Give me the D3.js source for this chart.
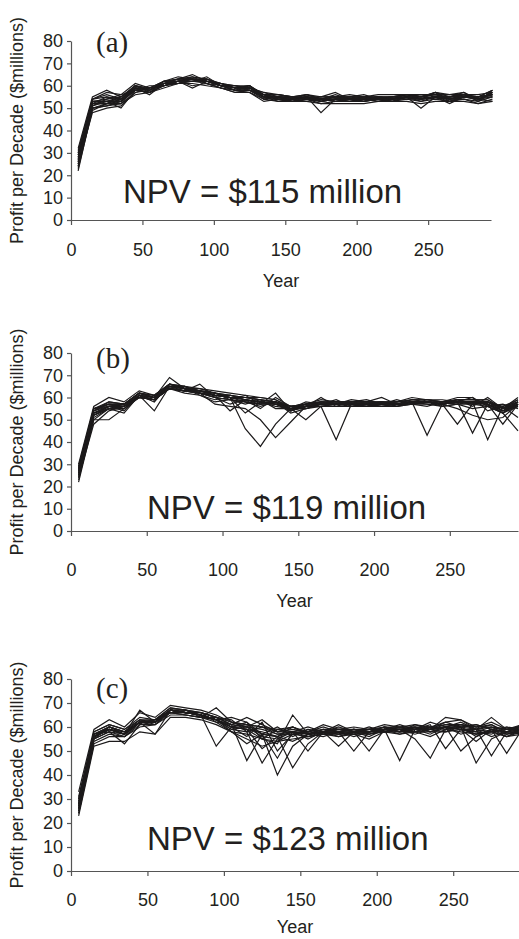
<!DOCTYPE html>
<html>
<head>
<meta charset="utf-8">
<script src="https://cdn.jsdelivr.net/npm/d3@7"></script>
<style>
  body { margin: 0; background: #fff; }
  svg { display: block; }
  text { font-family: "Liberation Sans", Arial, sans-serif; fill: #231f20; }
</style>
</head>
<body>
<div id="chart"></div>
<script>
// years at the middle of each decade
let years = [5, 15, 25, 35, 45, 55, 65, 75, 85, 95, 105, 115, 125, 135, 145,
             155, 165, 175, 185, 195, 205, 215, 225, 235, 245, 255, 265, 275, 285, 295]

let yTicks = [0, 10, 20, 30, 40, 50, 60, 70, 80]
let xTicks = [0, 50, 100, 150, 200, 250]
let panelLabels = ["(a)", "(b)", "(c)"]
let npvValues = [115, 119, 123]

// panel (a) runs, profit per decade ($millions)
let runsA = [
  [22, 50, 52, 53, 58, 57, 60, 62, 62, 61, 59, 58, 58, 55, 54, 53, 54, 52, 53, 54, 53, 54, 53, 55, 54, 55, 53, 55, 54, 55],
  [32, 55, 58, 55, 60, 59, 62, 63, 64, 63, 61, 60, 60, 56, 56, 55, 56, 54, 55, 55, 55, 55, 55, 56, 55, 56, 55, 56, 55, 58],
  [25, 48, 50, 51, 57, 58, 61, 62, 60, 61, 60, 58, 57, 53, 54, 54, 55, 48, 54, 53, 54, 53, 54, 55, 50, 55, 54, 54, 53, 55],
  [29, 53, 54, 55, 59, 56, 61, 63, 65, 62, 60, 59, 59, 57, 55, 54, 55, 54, 56, 54, 55, 55, 54, 56, 55, 54, 55, 56, 54, 57],
  [27, 51, 53, 50, 58, 59, 60, 61, 63, 62, 61, 59, 60, 55, 55, 53, 54, 55, 57, 54, 53, 54, 55, 55, 53, 55, 55, 55, 55, 56],
  [24, 52, 52, 54, 59, 58, 62, 62, 62, 63, 60, 58, 58, 56, 54, 54, 55, 53, 54, 55, 54, 54, 53, 54, 55, 56, 54, 55, 55, 56],
  [30, 54, 56, 54, 60, 58, 61, 63, 63, 62, 60, 60, 59, 56, 56, 55, 54, 53, 54, 54, 55, 54, 55, 56, 54, 57, 56, 57, 54, 57],
  [26, 50, 51, 53, 58, 57, 60, 62, 64, 61, 59, 57, 58, 54, 55, 54, 53, 54, 54, 53, 54, 55, 54, 55, 54, 55, 52, 55, 55, 55],
  [28, 53, 53, 55, 60, 58, 61, 61, 62, 62, 61, 59, 59, 55, 55, 55, 54, 53, 55, 54, 54, 53, 54, 55, 56, 55, 54, 56, 53, 57],
  [23, 49, 52, 52, 57, 59, 60, 62, 63, 61, 59, 58, 58, 55, 53, 54, 55, 54, 53, 53, 53, 54, 54, 54, 53, 54, 53, 54, 52, 54],
  [31, 54, 55, 54, 59, 58, 62, 63, 63, 63, 60, 59, 60, 56, 55, 55, 55, 55, 55, 54, 54, 55, 55, 56, 55, 57, 55, 56, 55, 58],
  [27, 52, 53, 53, 59, 58, 61, 62, 63, 62, 60, 59, 59, 55, 55, 54, 55, 53, 54, 54, 54, 54, 54, 55, 54, 55, 54, 55, 54, 56],
  [25, 51, 54, 56, 58, 57, 61, 62, 59, 62, 60, 58, 59, 56, 54, 53, 55, 53, 54, 55, 55, 54, 53, 55, 54, 55, 55, 55, 54, 53],
  [29, 52, 52, 52, 59, 59, 60, 62, 63, 62, 61, 59, 58, 55, 55, 54, 54, 54, 54, 54, 54, 55, 54, 55, 54, 55, 54, 55, 55, 56],
  [26, 54, 57, 56, 61, 59, 62, 64, 63, 63, 61, 60, 59, 57, 56, 55, 56, 55, 55, 56, 55, 56, 56, 56, 56, 56, 56, 56, 56, 57],
  [28, 50, 51, 52, 56, 57, 59, 61, 61, 60, 59, 57, 57, 54, 53, 53, 53, 52, 52, 52, 52, 53, 53, 53, 52, 53, 53, 53, 52, 53],
  [24, 53, 53, 54, 58, 60, 60, 61, 62, 64, 60, 60, 58, 56, 54, 55, 54, 54, 55, 55, 56, 54, 55, 54, 54, 55, 55, 57, 53, 58],
  [30, 52, 55, 53, 60, 57, 62, 62, 62, 62, 60, 58, 60, 54, 55, 54, 56, 54, 53, 54, 53, 55, 54, 55, 55, 57, 53, 55, 55, 56]
]

// panel (b) runs
let runsB = [
  [22, 50, 50, 55, 60, 59, 64, 63, 62, 60, 59, 58, 57, 57, 54, 56, 56, 57, 57, 57, 56, 57, 57, 58, 56, 57, 58, 57, 53, 57],
  [30, 56, 60, 58, 63, 61, 66, 65, 64, 63, 62, 61, 60, 59, 56, 57, 58, 58, 58, 58, 58, 58, 59, 59, 58, 59, 59, 59, 55, 58],
  [25, 52, 55, 53, 61, 54, 65, 64, 63, 61, 60, 59, 58, 57, 55, 55, 57, 57, 56, 57, 57, 57, 58, 57, 57, 58, 58, 58, 54, 57],
  [28, 54, 57, 57, 62, 60, 69, 64, 62, 61, 60, 60, 59, 58, 54, 56, 60, 56, 58, 57, 58, 56, 58, 58, 57, 59, 57, 58, 55, 59],
  [24, 48, 54, 56, 60, 59, 64, 63, 66, 60, 57, 59, 58, 58, 55, 57, 57, 57, 57, 56, 57, 57, 57, 58, 57, 58, 58, 57, 54, 56],
  [27, 53, 56, 56, 61, 60, 65, 64, 63, 62, 60, 60, 59, 58, 55, 56, 57, 59, 56, 57, 57, 58, 58, 58, 58, 58, 58, 58, 55, 57],
  [26, 55, 57, 56, 61, 60, 65, 65, 62, 61, 61, 59, 58, 56, 55, 55, 57, 57, 57, 58, 57, 57, 58, 43, 57, 58, 57, 57, 54, 58],
  [29, 53, 56, 57, 60, 59, 64, 63, 63, 62, 60, 58, 57, 58, 56, 56, 56, 41, 57, 57, 56, 57, 58, 58, 57, 48, 57, 58, 54, 57],
  [23, 51, 55, 55, 61, 58, 66, 64, 61, 59, 60, 53, 58, 57, 56, 56, 57, 57, 57, 57, 58, 57, 58, 58, 57, 58, 44, 57, 48, 57],
  [27, 54, 56, 56, 62, 60, 65, 64, 63, 61, 60, 46, 38, 48, 55, 56, 57, 57, 57, 57, 57, 57, 58, 58, 57, 58, 58, 41, 56, 51],
  [26, 52, 56, 54, 61, 59, 64, 63, 62, 57, 56, 55, 50, 42, 49, 56, 57, 57, 57, 57, 57, 57, 57, 58, 57, 58, 58, 57, 53, 45],
  [28, 55, 58, 57, 62, 60, 66, 64, 63, 62, 61, 60, 60, 59, 55, 50, 56, 57, 58, 58, 60, 57, 59, 58, 57, 59, 56, 60, 55, 60],
  [25, 53, 55, 56, 61, 60, 65, 63, 62, 61, 54, 59, 58, 57, 55, 56, 58, 57, 57, 57, 57, 57, 58, 58, 57, 55, 52, 50, 51, 57],
  [27, 53, 56, 56, 61, 59, 65, 64, 63, 61, 60, 59, 57, 62, 54, 56, 57, 57, 57, 56, 57, 57, 58, 58, 58, 60, 60, 54, 56, 58],
  [24, 50, 55, 56, 60, 59, 64, 63, 62, 60, 59, 58, 56, 58, 53, 55, 56, 56, 56, 56, 56, 56, 57, 57, 56, 57, 57, 56, 53, 56],
  [29, 55, 57, 57, 62, 61, 66, 64, 64, 62, 61, 60, 59, 58, 56, 57, 58, 58, 58, 58, 58, 58, 59, 59, 58, 59, 59, 59, 55, 58],
  [26, 54, 58, 57, 62, 61, 66, 65, 62, 60, 61, 59, 55, 60, 56, 57, 59, 58, 58, 59, 57, 58, 60, 59, 58, 59, 59, 58, 56, 59],
  [28, 52, 55, 55, 60, 59, 64, 62, 61, 58, 59, 57, 59, 55, 55, 58, 57, 58, 57, 56, 58, 56, 57, 56, 58, 57, 55, 56, 57, 55],
  [25, 55, 56, 57, 62, 60, 64, 65, 63, 62, 59, 61, 57, 58, 54, 57, 58, 57, 59, 58, 57, 59, 57, 59, 59, 58, 60, 56, 53, 58]
]

// panel (c) runs
let runsC = [
  [23, 52, 54, 54, 58, 57, 64, 64, 63, 61, 58, 57, 55, 54, 57, 56, 57, 56, 57, 55, 58, 57, 58, 56, 59, 58, 57, 58, 56, 58],
  [33, 59, 63, 60, 66, 64, 69, 68, 67, 65, 62, 61, 60, 58, 59, 58, 61, 59, 60, 59, 61, 60, 61, 60, 62, 63, 60, 62, 59, 60],
  [26, 56, 60, 57, 62, 57, 67, 66, 65, 52, 60, 59, 58, 56, 60, 57, 58, 56, 58, 59, 59, 58, 59, 59, 60, 57, 59, 60, 57, 59],
  [28, 57, 59, 58, 62, 63, 67, 66, 66, 64, 61, 46, 57, 60, 56, 59, 58, 57, 58, 58, 60, 59, 57, 59, 58, 60, 61, 59, 58, 61],
  [25, 55, 58, 53, 61, 62, 66, 65, 64, 63, 59, 58, 45, 55, 58, 57, 56, 58, 59, 57, 59, 59, 60, 58, 60, 59, 58, 57, 60, 59],
  [30, 58, 61, 59, 63, 63, 68, 67, 66, 64, 61, 60, 57, 40, 52, 57, 58, 60, 58, 56, 59, 61, 59, 59, 61, 60, 56, 59, 58, 58],
  [27, 56, 59, 57, 67, 62, 67, 66, 65, 63, 60, 62, 57, 56, 43, 53, 58, 58, 57, 58, 58, 59, 60, 58, 60, 61, 59, 58, 59, 59],
  [24, 53, 56, 56, 60, 61, 65, 65, 64, 68, 62, 60, 59, 57, 58, 50, 58, 52, 58, 59, 59, 57, 59, 60, 59, 60, 57, 59, 56, 59],
  [29, 57, 60, 58, 62, 62, 67, 66, 65, 63, 61, 64, 61, 58, 60, 57, 59, 58, 50, 58, 60, 59, 58, 59, 62, 60, 59, 61, 58, 60],
  [26, 56, 59, 57, 62, 62, 67, 66, 65, 63, 60, 59, 55, 53, 65, 57, 58, 59, 58, 50, 59, 60, 59, 57, 60, 59, 54, 59, 60, 58],
  [28, 56, 59, 57, 62, 62, 67, 66, 65, 63, 60, 56, 62, 50, 57, 58, 57, 58, 59, 58, 59, 46, 59, 59, 60, 62, 59, 56, 58, 59],
  [25, 55, 58, 57, 62, 62, 66, 66, 65, 63, 58, 53, 57, 56, 58, 55, 58, 57, 58, 59, 58, 59, 55, 47, 59, 60, 61, 59, 57, 59],
  [31, 57, 60, 58, 63, 62, 67, 67, 65, 63, 59, 60, 63, 58, 58, 57, 59, 58, 56, 58, 59, 58, 59, 61, 51, 59, 59, 48, 58, 59],
  [26, 56, 59, 57, 62, 62, 67, 66, 65, 63, 60, 59, 51, 56, 54, 57, 58, 59, 58, 57, 59, 59, 60, 59, 60, 50, 56, 59, 49, 59],
  [28, 56, 59, 57, 62, 62, 67, 66, 65, 63, 60, 61, 57, 47, 58, 56, 58, 58, 59, 58, 59, 60, 59, 62, 60, 60, 45, 55, 58, 57],
  [27, 56, 59, 57, 62, 62, 67, 66, 65, 63, 64, 62, 55, 59, 58, 60, 58, 61, 58, 58, 59, 59, 59, 59, 64, 63, 59, 64, 59, 61],
  [24, 54, 57, 56, 61, 61, 66, 65, 64, 62, 58, 55, 52, 54, 55, 56, 57, 57, 57, 57, 58, 58, 58, 58, 58, 59, 57, 58, 56, 57],
  [30, 58, 61, 59, 64, 63, 68, 67, 66, 64, 62, 61, 60, 59, 60, 58, 59, 59, 59, 59, 60, 60, 60, 60, 61, 61, 60, 60, 59, 60],
  [27, 55, 60, 58, 63, 61, 67, 67, 64, 64, 63, 58, 60, 57, 57, 59, 57, 58, 58, 60, 58, 59, 58, 60, 59, 61, 60, 61, 57, 58],
  [29, 57, 58, 56, 62, 63, 66, 66, 66, 62, 61, 60, 56, 55, 58, 58, 60, 58, 59, 58, 60, 58, 61, 59, 60, 59, 58, 60, 59, 60]
]

let W = 519, H = 939

let svg = d3.select("#chart")
  .append("svg")
  .attr("width", W)
  .attr("height", H)

// layout of the three stacked panels (pixels)
let layout = [
  {runs: runsA, x0: 71, x1: 491, xMax: 294, yBot: 220, yTop: 41, tickGap: 18, yearY: 287, labelY: 52, npvX: 123, npvY: 203},
  {runs: runsB, x0: 71, x1: 518, xMax: 295, yBot: 531, yTop: 353, tickGap: 27, yearY: 607, labelY: 368, npvX: 147, npvY: 519},
  {runs: runsC, x0: 71, x1: 522, xMax: 295, yBot: 871, yTop: 679, tickGap: 17, yearY: 933, labelY: 698, npvX: 147, npvY: 850}
]

layout.forEach((p, i) => {
  let x = d3.scaleLinear().domain([0, p.xMax]).range([p.x0, p.x1])
  let y = d3.scaleLinear().domain([0, 80]).range([p.yBot, p.yTop])
  let g = svg.append("g")

  // one path per simulation run
  let line = d3.line()
    .x((d, j) => x(years[j]))
    .y(d => y(d))

  g.selectAll("path.run")
    .data(p.runs)
    .enter()
    .append("path")
    .attr("class", "run")
    .attr("d", line)
    .attr("fill", "none")
    .attr("stroke", "#1c1a1b")
    .attr("stroke-width", 1.2)

  // axes
  let yAxis = g.append("g")
    .attr("transform", `translate(${p.x0},0)`)
    .call(d3.axisLeft(y).tickValues(yTicks).tickSize(4).tickSizeOuter(0).tickPadding(4))
  let xAxis = g.append("g")
    .attr("transform", `translate(0,${p.yBot})`)
    .call(d3.axisBottom(x).tickValues(xTicks).tickSize(5).tickSizeOuter(0).tickPadding(p.tickGap))

  ;[yAxis, xAxis].forEach(a => {
    a.select(".domain").attr("stroke", "#555").attr("stroke-width", 1.2)
    a.selectAll(".tick line").attr("stroke", "#555").attr("stroke-width", 1.2)
    a.selectAll(".tick text")
      .style("font-family", "'Liberation Sans', Arial, sans-serif")
      .style("font-size", "18px")
      .attr("fill", "#231f20")
  })

  // axis titles
  g.append("text")
    .attr("x", (p.x0 + Math.min(p.x1, W)) / 2)
    .attr("y", p.yearY)
    .attr("text-anchor", "middle")
    .style("font-size", "18px")
    .text("Year")

  g.append("text")
    .attr("transform", `translate(23,${(p.yBot + p.yTop) / 2}) rotate(-90)`)
    .attr("text-anchor", "middle")
    .style("font-size", "18px")
    .text("Profit per Decade ($millions)")

  // panel letter
  g.append("text")
    .attr("x", 96)
    .attr("y", p.labelY)
    .style("font-family", "'Liberation Serif', 'Times New Roman', serif")
    .style("font-size", "29px")
    .text(panelLabels[i])

  // NPV annotation
  g.append("text")
    .attr("x", p.npvX)
    .attr("y", p.npvY)
    .style("font-size", "33px")
    .text(`NPV = $${npvValues[i]} million`)
})
</script>
</body>
</html>
